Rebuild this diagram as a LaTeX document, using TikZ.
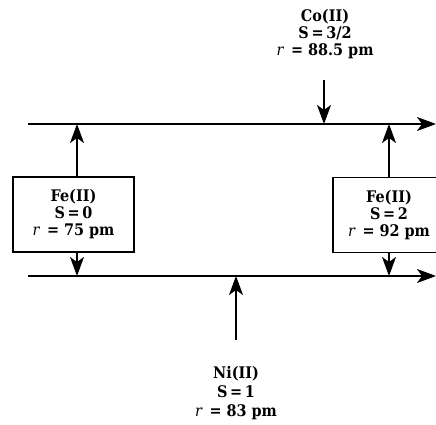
\documentclass[tikz,border=0pt]{standalone}
\usepackage{fontspec}
\setmainfont{DejaVu Serif Condensed}
\usetikzlibrary{arrows.meta}
\begin{document}
\begin{tikzpicture}[x=1pt,y=-1pt,
  conn/.style={line width=1.5pt,-{Stealth[length=19pt,width=14pt,inset=5pt]}},
  ionbox/.style={draw,line width=1.2pt,minimum width=121pt,minimum height=75pt,align=center,inner sep=2pt,font=\fontsize{16}{17}\selectfont\bfseries},
  ionlabel/.style={align=center,font=\fontsize{16}{17}\selectfont\bfseries}]
\useasboundingbox (0,0) rectangle (436,425);
\clip (0,0) rectangle (436,425);
% lines
\coordinate (t0) at (28,124);
\coordinate (t1) at (436,124);
\coordinate (b0) at (28,276);
\coordinate (b1) at (436,276);
\draw[conn] (t0) -- (t1);
\draw[conn] (b0) -- (b1);
% boxes
\node[ionbox] (fe0) at (73.5,214.5) {Fe(II)\\S\,=\,0\\{\mdseries\itshape r}\, = 75 pm};
\node[ionbox,minimum width=112pt] (fe2) at (389,215) {Fe(II)\\S\,=\,2\\{\mdseries\itshape r}\, = 92 pm};
\coordinate (lt) at (77,124);
\coordinate (lb) at (77,276);
\coordinate (rt) at (389,124);
\coordinate (rb) at (389,276);
\draw[conn] (fe0.north -| lt) -- (lt);
\draw[conn] (fe0.south -| lb) -- (lb);
\draw[conn] (fe2.north -| rt) -- (rt);
\draw[conn] (fe2.south -| rb) -- (rb);
% Co
\node[ionlabel] (co) at (325,34) {Co(II)\\S\,=\,3/2\\{\mdseries\itshape r}\, = 88.5 pm};
\coordinate (cs) at (324,80);
\coordinate (ce) at (324,124);
\draw[conn] (cs) -- (ce);
% Ni
\node[ionlabel,font=\fontsize{16}{19}\selectfont\bfseries] (ni) at (236,393) {Ni(II)\\S\,=\,1\\{\mdseries\itshape r}\, = 83 pm};
\coordinate (ns) at (236,340);
\coordinate (ne) at (236,276);
\draw[conn] (ns) -- (ne);
\end{tikzpicture}
\end{document}
